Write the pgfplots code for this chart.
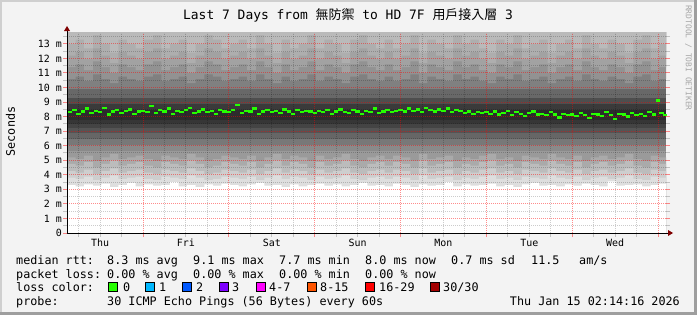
\documentclass[border=0pt]{standalone}
\usepackage{pgfplots}
\pgfplotsset{compat=1.18}
\usepackage{fontspec}
\setmainfont{DejaVu Sans Mono}
\newfontfamily\cjk{Noto Sans CJK TC}
\pgfdeclarelayer{bgl}
\pgfsetlayers{bgl,main}
\definecolor{bgc}{HTML}{F3F3F3}
\definecolor{shadeA}{HTML}{CFCFCF}
\definecolor{shadeB}{HTML}{9E9E9E}
\definecolor{arrowred}{HTML}{7F0000}
\definecolor{rrdgrey}{HTML}{A8A8A8}
\definecolor{lc0}{HTML}{26FF00}
\definecolor{lc1}{HTML}{00B8FF}
\definecolor{lc2}{HTML}{0059FF}
\definecolor{lc3}{HTML}{7E00FF}
\definecolor{lc4}{HTML}{FF00FF}
\definecolor{lc5}{HTML}{FF5500}
\definecolor{lc6}{HTML}{FF0000}
\definecolor{lc7}{HTML}{A10000}
% lower smoke shades (bottom to median)
\definecolor{la}{HTML}{DEDEDE}
\definecolor{lb}{HTML}{CECECE}
\definecolor{lcc}{HTML}{BCBCBC}
\definecolor{ld}{HTML}{AAAAAA}
\definecolor{le}{HTML}{9A9A9A}
\definecolor{lf}{HTML}{8A8A8A}
\definecolor{lg}{HTML}{787878}
\definecolor{lh}{HTML}{666666}
\definecolor{li}{HTML}{545454}
\definecolor{lj}{HTML}{444444}
\definecolor{lk}{HTML}{363636}
\definecolor{core}{HTML}{2C2C2C}
% upper smoke shades (median to top)
\definecolor{ua}{HTML}{3A3A3A}
\definecolor{ub}{HTML}{4E4E4E}
\definecolor{uc}{HTML}{686868}
\definecolor{ud}{HTML}{808080}
\definecolor{ue}{HTML}{929292}
\definecolor{uf}{HTML}{A2A2A2}
\definecolor{ug}{HTML}{AEAEAE}
\definecolor{uh}{HTML}{BABABA}
\newcommand\axisfont{\fontsize{10}{12}\selectfont}
\newcommand\legfont{\fontsize{11.8}{14}\selectfont}
\pgfplotstableread{
t l l2 l3 l4 l5 u5 u6 u7 u8
0.114 3.30 3.80 4.25 4.75 5.20 13.0 12.2 11.4 10.6
0.214 3.20 3.72 4.15 4.63 5.08 13.3 12.45 11.6 10.75
0.314 3.35 3.88 4.35 4.87 5.32 12.7 11.95 11.2 10.45
0.414 3.25 3.64 4.05 4.51 4.96 13.6 12.7 11.8 10.9
0.514 3.40 3.80 4.25 4.75 5.20 13.0 12.2 11.4 10.6
0.614 3.15 3.96 4.45 4.99 5.44 12.4 11.7 11.0 10.3
0.714 3.30 3.72 4.15 4.63 5.08 13.3 12.45 11.6 10.75
0.814 3.45 3.80 4.25 4.75 5.20 13.0 12.2 11.4 10.6
0.914 3.20 3.88 4.35 4.87 5.32 12.7 11.95 11.2 10.45
1.014 3.35 3.72 4.15 4.63 5.08 13.3 12.45 11.6 10.75
1.114 3.25 3.64 4.05 4.51 4.96 13.6 12.7 11.8 10.9
1.214 3.30 3.88 4.35 4.87 5.32 12.7 11.95 11.2 10.45
1.314 3.50 3.80 4.25 4.75 5.20 13.0 12.2 11.4 10.6
1.414 3.20 3.72 4.15 4.63 5.08 13.3 12.45 11.6 10.75
1.514 3.30 3.96 4.45 4.99 5.44 12.4 11.7 11.0 10.3
1.614 3.15 3.80 4.25 4.75 5.20 13.0 12.2 11.4 10.6
1.714 3.35 3.64 4.05 4.51 4.96 13.6 12.7 11.8 10.9
1.814 3.25 3.72 4.15 4.63 5.08 13.3 12.45 11.6 10.75
1.914 3.40 3.88 4.35 4.87 5.32 12.7 11.95 11.2 10.45
2.014 3.30 3.80 4.25 4.75 5.20 13.0 12.2 11.4 10.6
2.114 3.20 3.72 4.15 4.63 5.08 13.3 12.45 11.6 10.75
2.214 3.35 3.88 4.35 4.87 5.32 12.7 11.95 11.2 10.45
2.314 3.45 3.64 4.05 4.51 4.96 13.6 12.7 11.8 10.9
2.414 3.25 3.80 4.25 4.75 5.20 13.0 12.2 11.4 10.6
2.514 3.30 3.96 4.45 4.99 5.44 12.4 11.7 11.0 10.3
2.614 3.15 3.72 4.15 4.63 5.08 13.3 12.45 11.6 10.75
2.714 3.35 3.88 4.35 4.87 5.32 12.7 11.95 11.2 10.45
2.814 3.20 3.80 4.25 4.75 5.20 13.0 12.2 11.4 10.6
2.914 3.30 3.64 4.05 4.51 4.96 13.6 12.7 11.8 10.9
3.014 3.40 3.88 4.35 4.87 5.32 12.7 11.95 11.2 10.45
3.114 3.25 3.72 4.15 4.63 5.08 13.3 12.45 11.6 10.75
3.214 3.35 3.80 4.25 4.75 5.20 13.0 12.2 11.4 10.6
3.314 3.20 3.96 4.45 4.99 5.44 12.4 11.7 11.0 10.3
3.414 3.30 3.72 4.15 4.63 5.08 13.3 12.45 11.6 10.75
3.514 3.45 3.64 4.05 4.51 4.96 13.6 12.7 11.8 10.9
3.614 3.25 3.80 4.25 4.75 5.20 13.0 12.2 11.4 10.6
3.714 3.30 3.88 4.35 4.87 5.32 12.7 11.95 11.2 10.45
3.814 3.20 3.72 4.15 4.63 5.08 13.3 12.45 11.6 10.75
3.914 3.40 3.88 4.35 4.87 5.32 12.7 11.95 11.2 10.45
4.014 3.30 3.80 4.25 4.75 5.20 13.0 12.2 11.4 10.6
4.114 3.15 3.64 4.05 4.51 4.96 13.6 12.7 11.8 10.9
4.214 3.35 3.96 4.45 4.99 5.44 12.4 11.7 11.0 10.3
4.314 3.25 3.72 4.15 4.63 5.08 13.3 12.45 11.6 10.75
4.414 3.30 3.80 4.25 4.75 5.20 13.0 12.2 11.4 10.6
4.514 3.50 3.88 4.35 4.87 5.32 12.7 11.95 11.2 10.45
4.614 3.20 3.64 4.05 4.51 4.96 13.6 12.7 11.8 10.9
4.714 3.35 3.80 4.25 4.75 5.20 13.0 12.2 11.4 10.6
4.814 3.25 3.72 4.15 4.63 5.08 13.3 12.45 11.6 10.75
4.914 3.30 3.88 4.35 4.87 5.32 12.7 11.95 11.2 10.45
5.014 3.40 3.96 4.45 4.99 5.44 12.4 11.7 11.0 10.3
5.114 3.20 3.72 4.15 4.63 5.08 13.3 12.45 11.6 10.75
5.214 3.30 3.80 4.25 4.75 5.20 13.0 12.2 11.4 10.6
5.314 3.15 3.64 4.05 4.51 4.96 13.6 12.7 11.8 10.9
5.414 3.35 3.88 4.35 4.87 5.32 12.7 11.95 11.2 10.45
5.514 3.45 3.80 4.25 4.75 5.20 13.0 12.2 11.4 10.6
5.614 3.25 3.72 4.15 4.63 5.08 13.3 12.45 11.6 10.75
5.714 3.30 3.96 4.45 4.99 5.44 12.4 11.7 11.0 10.3
5.814 3.20 3.80 4.25 4.75 5.20 13.0 12.2 11.4 10.6
5.914 3.35 3.72 4.15 4.63 5.08 13.3 12.45 11.6 10.75
6.014 3.25 3.88 4.35 4.87 5.32 12.7 11.95 11.2 10.45
6.114 3.40 3.64 4.05 4.51 4.96 13.6 12.7 11.8 10.9
6.214 3.30 3.80 4.25 4.75 5.20 13.0 12.2 11.4 10.6
6.314 3.20 3.88 4.35 4.87 5.32 12.7 11.95 11.2 10.45
6.414 3.55 3.72 4.15 4.63 5.08 13.3 12.45 11.6 10.75
6.514 3.25 3.80 4.25 4.75 5.20 13.0 12.2 11.4 10.6
6.614 3.30 3.96 4.45 4.99 5.44 12.4 11.7 11.0 10.3
6.714 3.35 3.72 4.15 4.63 5.08 13.3 12.45 11.6 10.75
6.814 3.20 3.64 4.05 4.51 4.96 13.6 12.7 11.8 10.9
6.914 3.30 3.88 4.35 4.87 5.32 12.7 11.95 11.2 10.45
7.014 3.40 3.80 4.25 4.75 5.20 13.0 12.2 11.4 10.6
7.093 3.40 3.80 4.25 4.75 5.20 13.0 12.2 11.4 10.6
}\smoke
\pgfplotstableread{
t m
0.15 8.30
0.20 8.45
0.25 8.20
0.30 8.35
0.35 8.55
0.40 8.25
0.45 8.40
0.50 8.30
0.55 8.60
0.60 8.15
0.65 8.35
0.70 8.45
0.75 8.25
0.80 8.40
0.85 8.50
0.90 8.20
0.95 8.35
1.00 8.40
1.05 8.30
1.10 8.75
1.15 8.25
1.20 8.45
1.25 8.35
1.30 8.55
1.35 8.20
1.40 8.40
1.45 8.30
1.50 8.45
1.55 8.60
1.60 8.25
1.65 8.35
1.70 8.50
1.75 8.30
1.80 8.40
1.85 8.20
1.90 8.45
1.95 8.35
2.00 8.30
2.05 8.45
2.10 8.80
2.15 8.25
2.20 8.40
2.25 8.35
2.30 8.55
2.35 8.20
2.40 8.35
2.45 8.45
2.50 8.30
2.55 8.40
2.60 8.25
2.65 8.50
2.70 8.35
2.75 8.20
2.80 8.45
2.85 8.30
2.90 8.40
2.95 8.35
3.00 8.25
3.05 8.40
3.10 8.30
3.15 8.45
3.20 8.20
3.25 8.35
3.30 8.50
3.35 8.30
3.40 8.25
3.45 8.45
3.50 8.35
3.55 8.20
3.60 8.40
3.65 8.30
3.70 8.55
3.75 8.25
3.80 8.35
3.85 8.45
3.90 8.30
3.95 8.40
4.00 8.45
4.05 8.35
4.10 8.55
4.15 8.40
4.20 8.50
4.25 8.30
4.30 8.60
4.35 8.45
4.40 8.35
4.45 8.50
4.50 8.40
4.55 8.55
4.60 8.30
4.65 8.45
4.70 8.40
4.75 8.25
4.80 8.35
4.85 8.20
4.90 8.30
4.95 8.25
5.00 8.30
5.05 8.20
5.10 8.35
5.15 8.15
5.20 8.25
5.25 8.40
5.30 8.10
5.35 8.30
5.40 8.20
5.45 8.05
5.50 8.25
5.55 8.35
5.60 8.15
5.65 8.20
5.70 8.10
5.75 8.30
5.80 8.15
5.85 7.95
5.90 8.20
5.95 8.10
6.00 8.15
6.05 8.05
6.10 8.25
6.15 8.10
6.20 7.90
6.25 8.20
6.30 8.15
6.35 8.05
6.40 8.30
6.45 8.10
6.50 7.85
6.55 8.20
6.60 8.15
6.65 8.00
6.70 8.25
6.75 8.10
6.80 8.20
6.85 8.05
6.90 8.30
6.95 8.15
7.00 9.10
7.04 8.25
7.08 8.10
}\median
\begin{document}
\begin{tikzpicture}[x=1bp,y=1bp]
\begin{axis}[
  name=ax,
  at={(67bp,82bp)}, anchor=south west, scale only axis,
  width=599bp, height=200bp,
  xmin=0.114, xmax=7.093, ymin=0, ymax=13.75,
  axis on top,
  axis background/.style={fill=white},
  axis line style={draw=none},
  xtick={1,2,3,4,5,6,7}, xticklabels={},
  minor xtick={0.25,0.5,0.75,1.25,1.5,1.75,2.25,2.5,2.75,3.25,3.5,3.75,4.25,4.5,4.75,5.25,5.5,5.75,6.25,6.5,6.75},
  ytick={0,1,2,3,4,5,6,7,8,9,10,11,12,13},
  yticklabels={0,1 m,2 m,3 m,4 m,5 m,6 m,7 m,8 m,9 m,10 m,11 m,12 m,13 m},
  minor ytick={0.5,1.5,2.5,3.5,4.5,5.5,6.5,7.5,8.5,9.5,10.5,11.5,12.5,13.5},
  grid=both,
  major grid style={draw=red, draw opacity=0.45, dash pattern=on 1bp off 1bp, line width=1bp},
  minor grid style={draw=black, draw opacity=0.2, dash pattern=on 1bp off 1bp, line width=1bp},
  tick align=outside, major tick length=4bp, minor tick length=4bp,
  xtick pos=left, ytick pos=both,
  major tick style={draw=red, draw opacity=0.45, line width=1bp},
  minor tick style={draw=black, draw opacity=0.2, line width=1bp},
  yticklabel style={font=\axisfont, inner sep=1bp, text=black},
  extra x ticks={0.5,1.5,2.5,3.5,4.5,5.5,6.5},
  extra x tick labels={Thu,Fri,Sat,Sun,Mon,Tue,Wed},
  extra x tick style={grid=none, major tick length=0pt,
     xticklabel style={font=\axisfont, anchor=base, inner sep=0pt, yshift=-13bp}},
]
% core colour everywhere, then lower bands painted upward from 0
\addplot[fill=core, draw=none] coordinates {(0.114,0) (7.093,0) (7.093,20) (0.114,20)};
\addplot[fill=lk, draw=none] coordinates {(0.114,0) (7.093,0) (7.093,7.8) (0.114,7.8)};
\addplot[fill=lj, draw=none] coordinates {(0.114,0) (7.093,0) (7.093,7.5) (0.114,7.5)};
\addplot[fill=li, draw=none] coordinates {(0.114,0) (7.093,0) (7.093,7.2) (0.114,7.2)};
\addplot[fill=lh, draw=none] coordinates {(0.114,0) (7.093,0) (7.093,6.85) (0.114,6.85)};
\addplot[fill=lg, draw=none] coordinates {(0.114,0) (7.093,0) (7.093,6.45) (0.114,6.45)};
\addplot[fill=lf, draw=none] coordinates {(0.114,0) (7.093,0) (7.093,6.05) (0.114,6.05)};
\addplot[fill=le, draw=none] coordinates {(0.114,0) (7.093,0) (7.093,5.65) (0.114,5.65)};
\addplot[const plot, fill=ld, draw=none] table[x=t,y=l5] {\smoke} \closedcycle;
\addplot[const plot, fill=lcc, draw=none] table[x=t,y=l4] {\smoke} \closedcycle;
\addplot[const plot, fill=lb, draw=none] table[x=t,y=l3] {\smoke} \closedcycle;
\addplot[const plot, fill=la, draw=none] table[x=t,y=l2] {\smoke} \closedcycle;
\addplot[const plot, fill=white, draw=none] table[x=t,y=l] {\smoke} \closedcycle;
% upper bands painted from their edge to the top
\addplot[fill=ua, draw=none] coordinates {(0.114,8.45) (7.093,8.45) (7.093,20) (0.114,20)};
\addplot[fill=ub, draw=none] coordinates {(0.114,8.85) (7.093,8.85) (7.093,20) (0.114,20)};
\addplot[fill=uc, draw=none] coordinates {(0.114,9.3) (7.093,9.3) (7.093,20) (0.114,20)};
\addplot[fill=ud, draw=none] coordinates {(0.114,9.9) (7.093,9.9) (7.093,20) (0.114,20)};
\addplot[const plot, fill=ue, draw=none] table[x=t,y=u8] {\smoke} |- (axis cs:0.114,20) -- cycle;
\addplot[const plot, fill=uf, draw=none] table[x=t,y=u7] {\smoke} |- (axis cs:0.114,20) -- cycle;
\addplot[const plot, fill=ug, draw=none] table[x=t,y=u6] {\smoke} |- (axis cs:0.114,20) -- cycle;
\addplot[const plot, fill=uh, draw=none] table[x=t,y=u5] {\smoke} |- (axis cs:0.114,20) -- cycle;
\addplot[only marks, mark=-, mark size=2.2bp, mark options={line width=2.4bp, color=lc0, line cap=butt}] table[x=t,y=m] {\median};
\end{axis}
\begin{scope}[shift={(ax.south west)}, xshift=-67bp, yshift=-82bp]
\begin{pgfonlayer}{bgl}
\fill[bgc] (0,0) rectangle (697,315);
\fill[shadeA] (0,0) rectangle (2,315);
\fill[shadeA] (0,313) rectangle (697,315);
\fill[shadeB] (694,0) rectangle (697,315);
\fill[shadeB] (0,0) rectangle (697,3);
\end{pgfonlayer}
\draw[black, line width=1bp] (67,82) -- (67,285);
\draw[black, line width=1bp] (66.5,82) -- (669,82);
\fill[arrowred] (64,284) -- (70,284) -- (67,289) -- cycle;
\fill[arrowred] (668,79) -- (668,85) -- (673,82) -- cycle;
\node[anchor=base, inner sep=0pt] at (348,296) {\fontsize{13}{15}\selectfont Last 7 Days from {\cjk 無防禦} to HD 7F {\cjk 用戶接入層} 3};
\node[rotate=90, inner sep=0pt] at (10.5,183.5) {\legfont Seconds};
\node[rotate=-90, anchor=west, inner sep=0pt, text=rrdgrey] at (688.5,310) {\fontsize{8}{9}\selectfont RRDTOOL / TOBI OETIKER};
\begin{scope}[every node/.style={anchor=base west, inner sep=0pt, font=\legfont}]
\node at (16,51) {median rtt:};
\node at (107,51) {8.3 ms avg};
\node at (193,51) {9.1 ms max};
\node at (279,51) {7.7 ms min};
\node at (365,51) {8.0 ms now};
\node at (451,51) {0.7 ms sd};
\node at (531,51) {11.5};
\node at (579,51) {am/s};
\node at (16,37) {packet loss:};
\node at (107,37) {0.00 \% avg};
\node at (193,37) {0.00 \% max};
\node at (279,37) {0.00 \% min};
\node at (365,37) {0.00 \% now};
\node at (16,24) {loss color:};
\node at (123,24) {0};
\node at (159,24) {1};
\node at (196,24) {2};
\node at (232,24) {3};
\node at (269,24) {4-7};
\node at (320,24) {8-15};
\node at (379,24) {16-29};
\node at (443,24) {30/30};
\node at (16,10) {probe:};
\node at (107,10) {30 ICMP Echo Pings (56 Bytes) every 60s};
\node[anchor=base east] at (680,10) {Thu Jan 15 02:14:16 2026};
\end{scope}
\begin{scope}[line width=0.8bp]
\filldraw[fill=lc0, draw=black] (108.5,23.5) rectangle (117.5,32.5);
\filldraw[fill=lc1, draw=black] (145.5,23.5) rectangle (154.5,32.5);
\filldraw[fill=lc2, draw=black] (182.5,23.5) rectangle (191.5,32.5);
\filldraw[fill=lc3, draw=black] (219.5,23.5) rectangle (228.5,32.5);
\filldraw[fill=lc4, draw=black] (256.5,23.5) rectangle (265.5,32.5);
\filldraw[fill=lc5, draw=black] (307.5,23.5) rectangle (316.5,32.5);
\filldraw[fill=lc6, draw=black] (365.5,23.5) rectangle (374.5,32.5);
\filldraw[fill=lc7, draw=black] (430.5,23.5) rectangle (439.5,32.5);
\end{scope}
\pgfresetboundingbox
\path[use as bounding box] (0,0) rectangle (697,315);
\end{scope}
\end{tikzpicture}
\end{document}
